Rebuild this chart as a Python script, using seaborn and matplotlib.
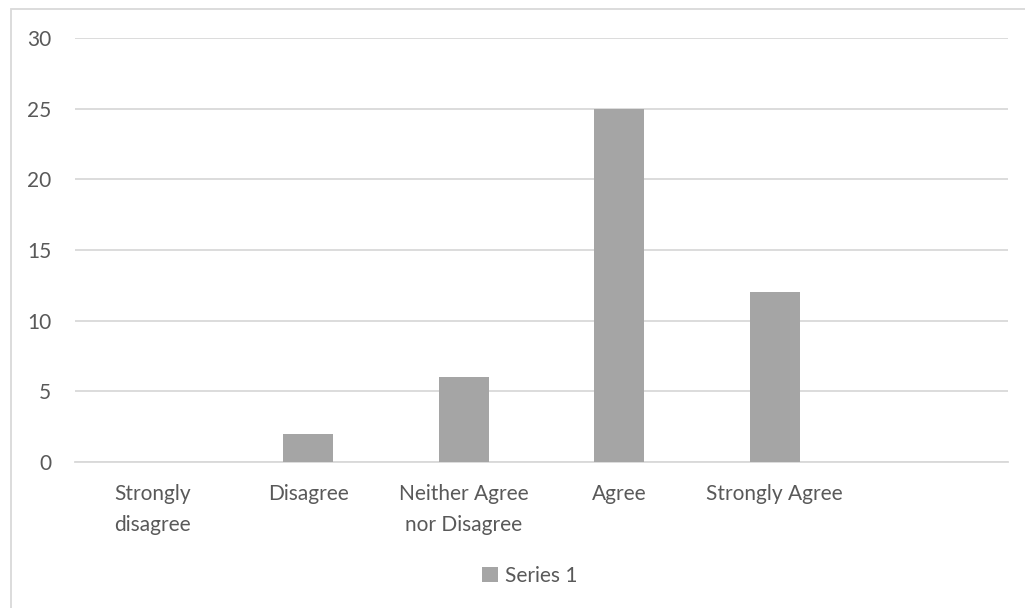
import matplotlib
matplotlib.use("Agg")
import matplotlib.pyplot as plt
from matplotlib.patches import Rectangle
import seaborn as sns
import pandas as pd

# Survey responses
categories = ["Strongly\ndisagree", "Disagree", "Neither Agree\nnor Disagree", "Agree", "Strongly Agree"]
counts = [0, 2, 6, 25, 12]
series_name = "Series 1"
y_ticks = [0, 5, 10, 15, 20, 25, 30]

TEXT = "#595959"
GRID = "#D9D9D9"
BAR = "#A5A5A5"

sns.set_theme(style="white")
plt.rcParams["font.family"] = ["Lato", "DejaVu Sans"]

df = pd.DataFrame({"category": categories, "count": counts, "series": series_name})

fig = plt.figure(figsize=(10.25, 6.08), dpi=100)
ax = fig.add_axes([75 / 1025, 146 / 608, 933 / 1025, 424 / 608])

sns.barplot(data=df, x="category", y="count", color=BAR, width=0.32,
            saturation=1, linewidth=0, ax=ax, zorder=3)

# one empty slot on the right of the category axis
ax.set_xlim(-0.5, 5.5)
ax.set_ylim(0, 30)
ax.set_yticks(y_ticks)
ax.set_yticklabels([str(v) for v in y_ticks])

ax.grid(axis="y", color=GRID, linewidth=1.3, zorder=0)
ax.grid(axis="x", visible=False)
for side in ["left", "right", "top"]:
    ax.spines[side].set_visible(False)
ax.spines["bottom"].set_color(GRID)
ax.spines["bottom"].set_linewidth(1.3)

ax.tick_params(axis="both", length=0, labelsize=15, colors=TEXT)
ax.tick_params(axis="y", pad=17)
ax.tick_params(axis="x", pad=16)
for lbl in ax.get_xticklabels():
    lbl.set_linespacing(1.7)
    lbl.set_verticalalignment("top")
ax.set_xlabel("")
ax.set_ylabel("")

handle = Rectangle((0, 0), 1, 1, facecolor=BAR, edgecolor="none")
fig.legend([handle], [series_name], loc="center", bbox_to_anchor=(530 / 1025, 1 - 576 / 608),
           frameon=False, fontsize=15, labelcolor=TEXT, handlelength=0.75, handleheight=0.75,
           handletextpad=0.35)

# chart area frame
fig.patches.append(Rectangle((11 / 1025, -0.05), 1.1, 1 - 9 / 608 + 0.05, transform=fig.transFigure,
                             facecolor="none", edgecolor=GRID, linewidth=1.3, zorder=-1))

fig.savefig("out.png", dpi=100)
